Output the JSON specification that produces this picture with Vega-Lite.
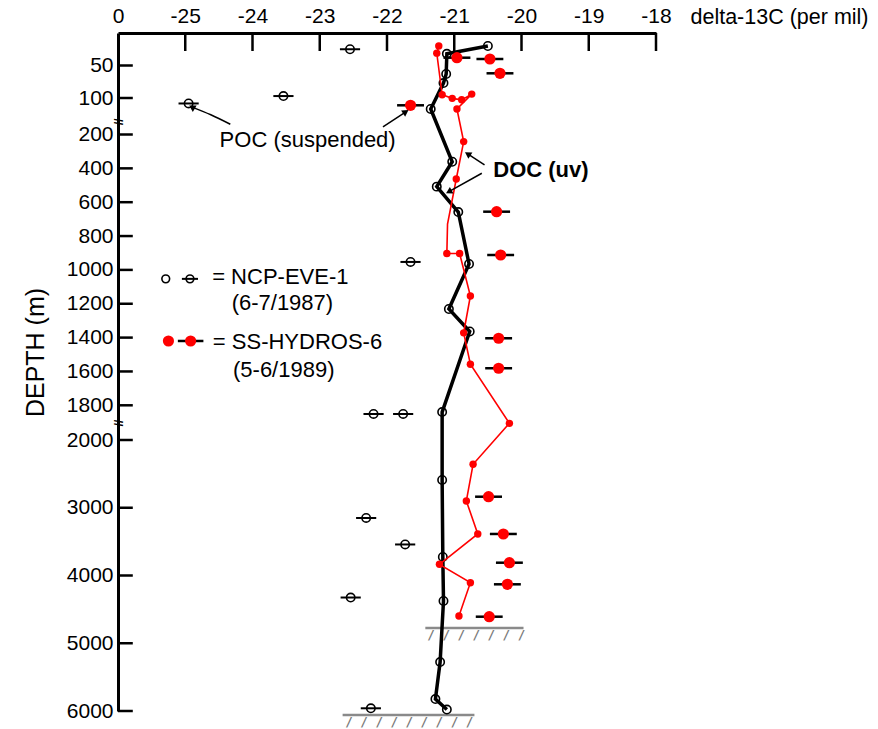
{
  "$schema": "https://vega.github.io/schema/vega-lite/v6.json",
  "width": 538,
  "height": 678,
  "padding": {"left": 118, "top": 33, "right": 222, "bottom": 18},
  "autosize": {"type": "none"},
  "background": "white",
  "config": {"view": {"stroke": null}, "font": "Liberation Sans"},
  "datasets": {
    "docBlack": [
      {"seq": 1, "depth": 20, "d13c": -20.50},
      {"seq": 2, "depth": 32, "d13c": -21.11},
      {"seq": 3, "depth": 63, "d13c": -21.12},
      {"seq": 4, "depth": 77, "d13c": -21.16},
      {"seq": 5, "depth": 130, "d13c": -21.35},
      {"seq": 6, "depth": 361, "d13c": -21.03},
      {"seq": 7, "depth": 508, "d13c": -21.26},
      {"seq": 8, "depth": 658, "d13c": -20.94},
      {"seq": 9, "depth": 965, "d13c": -20.78},
      {"seq": 10, "depth": 1231, "d13c": -21.08},
      {"seq": 11, "depth": 1364, "d13c": -20.77},
      {"seq": 12, "depth": 1839, "d13c": -21.18},
      {"seq": 13, "depth": 2590, "d13c": -21.18},
      {"seq": 14, "depth": 3727, "d13c": -21.17},
      {"seq": 15, "depth": 4376, "d13c": -21.16},
      {"seq": 16, "depth": 5277, "d13c": -21.21},
      {"seq": 17, "depth": 5823, "d13c": -21.28},
      {"seq": 18, "depth": 5978, "d13c": -21.11}
    ],
    "docRed": [
      {"seq": 1, "depth": 20, "d13c": -21.23, "marker": true},
      {"seq": 2, "depth": 31, "d13c": -21.26, "marker": true},
      {"seq": 3, "depth": 95, "d13c": -21.18, "marker": true},
      {"seq": 4, "depth": 101, "d13c": -21.03, "marker": true},
      {"seq": 5, "depth": 105, "d13c": -20.89, "marker": true},
      {"seq": 6, "depth": 94, "d13c": -20.74, "marker": true},
      {"seq": 7, "depth": 130, "d13c": -20.96, "marker": true},
      {"seq": 8, "depth": 242, "d13c": -20.86, "marker": true},
      {"seq": 9, "depth": 463, "d13c": -20.97, "marker": true},
      {"seq": 10, "depth": 729, "d13c": -21.10, "marker": false},
      {"seq": 11, "depth": 903, "d13c": -21.11, "marker": true},
      {"seq": 12, "depth": 903, "d13c": -20.92, "marker": true},
      {"seq": 13, "depth": 1154, "d13c": -20.76, "marker": true},
      {"seq": 14, "depth": 1372, "d13c": -20.86, "marker": true},
      {"seq": 15, "depth": 1557, "d13c": -20.76, "marker": true},
      {"seq": 16, "depth": 1904, "d13c": -20.18, "marker": true},
      {"seq": 17, "depth": 2359, "d13c": -20.72, "marker": true},
      {"seq": 18, "depth": 2900, "d13c": -20.82, "marker": true},
      {"seq": 19, "depth": 3387, "d13c": -20.65, "marker": true},
      {"seq": 20, "depth": 3835, "d13c": -21.22, "marker": true},
      {"seq": 21, "depth": 4106, "d13c": -20.76, "marker": true},
      {"seq": 22, "depth": 4598, "d13c": -20.93, "marker": true}
    ],
    "pocBlack": [
      {"depth": 25, "d13c": -22.55, "lo": -22.70, "hi": -22.40},
      {"depth": 97, "d13c": -23.54, "lo": -23.69, "hi": -23.39},
      {"depth": 115, "d13c": -24.95, "lo": -25.10, "hi": -24.80},
      {"depth": 953, "d13c": -21.65, "lo": -21.80, "hi": -21.50},
      {"depth": 1850, "d13c": -22.20, "lo": -22.35, "hi": -22.05},
      {"depth": 1850, "d13c": -21.76, "lo": -21.91, "hi": -21.61},
      {"depth": 3151, "d13c": -22.31, "lo": -22.46, "hi": -22.16},
      {"depth": 3542, "d13c": -21.73, "lo": -21.88, "hi": -21.58},
      {"depth": 4325, "d13c": -22.54, "lo": -22.69, "hi": -22.39},
      {"depth": 5960, "d13c": -22.24, "lo": -22.39, "hi": -22.09}
    ],
    "pocRed": [
      {"depth": 38, "d13c": -20.96, "lo": -21.16, "hi": -20.76},
      {"depth": 40, "d13c": -20.47, "lo": -20.67, "hi": -20.27},
      {"depth": 62, "d13c": -20.32, "lo": -20.52, "hi": -20.12},
      {"depth": 120, "d13c": -21.65, "lo": -21.85, "hi": -21.45},
      {"depth": 656, "d13c": -20.37, "lo": -20.57, "hi": -20.17},
      {"depth": 912, "d13c": -20.31, "lo": -20.51, "hi": -20.11},
      {"depth": 1404, "d13c": -20.34, "lo": -20.54, "hi": -20.14},
      {"depth": 1581, "d13c": -20.34, "lo": -20.54, "hi": -20.14},
      {"depth": 2837, "d13c": -20.49, "lo": -20.69, "hi": -20.29},
      {"depth": 3387, "d13c": -20.27, "lo": -20.47, "hi": -20.07},
      {"depth": 3811, "d13c": -20.18, "lo": -20.38, "hi": -19.98},
      {"depth": 4130, "d13c": -20.21, "lo": -20.41, "hi": -20.01},
      {"depth": 4608, "d13c": -20.48, "lo": -20.68, "hi": -20.28}
    ],
    "floor": [
      {"depth": 4775, "lo": -21.43, "hi": -19.97, "d13c": -21.40, "label": "/ / / / / / /"},
      {"depth": 6059, "lo": -22.66, "hi": -20.70, "d13c": -22.62, "label": "/ / / / / / / / /"}
    ],
    "arrows": [
      {"id": "a", "seq": 1, "d13c": -24.33, "depth": 172},
      {"id": "a", "seq": 2, "d13c": -24.62, "depth": 146},
      {"id": "a", "seq": 3, "d13c": -24.90, "depth": 125},
      {"id": "b", "seq": 1, "d13c": -22.06, "depth": 179},
      {"id": "b", "seq": 2, "d13c": -21.72, "depth": 138},
      {"id": "c", "seq": 1, "d13c": -20.55, "depth": 380},
      {"id": "c", "seq": 2, "d13c": -20.80, "depth": 315},
      {"id": "d", "seq": 1, "d13c": -20.59, "depth": 429},
      {"id": "d", "seq": 2, "d13c": -21.08, "depth": 538}
    ],
    "xTicks": [
      {"d13c": -25, "depth": 0, "tickEnd": 27.7}, {"d13c": -24, "depth": 0, "tickEnd": 27.7},
      {"d13c": -23, "depth": 0, "tickEnd": 27.7}, {"d13c": -22, "depth": 0, "tickEnd": 27.7},
      {"d13c": -21, "depth": 0, "tickEnd": 27.7}, {"d13c": -20, "depth": 0, "tickEnd": 27.7},
      {"d13c": -19, "depth": 0, "tickEnd": 27.7}, {"d13c": -18, "depth": 0, "tickEnd": 27.7}
    ],
    "yTicks": [
      {"depth": 50, "d13c": -26, "tickEnd": -25.78}, {"depth": 100, "d13c": -26, "tickEnd": -25.78},
      {"depth": 200, "d13c": -26, "tickEnd": -25.78}, {"depth": 400, "d13c": -26, "tickEnd": -25.78},
      {"depth": 600, "d13c": -26, "tickEnd": -25.78}, {"depth": 800, "d13c": -26, "tickEnd": -25.78},
      {"depth": 1000, "d13c": -26, "tickEnd": -25.78}, {"depth": 1200, "d13c": -26, "tickEnd": -25.78},
      {"depth": 1400, "d13c": -26, "tickEnd": -25.78}, {"depth": 1600, "d13c": -26, "tickEnd": -25.78},
      {"depth": 1800, "d13c": -26, "tickEnd": -25.78}, {"depth": 2000, "d13c": -26, "tickEnd": -25.78},
      {"depth": 3000, "d13c": -26, "tickEnd": -25.78}, {"depth": 4000, "d13c": -26, "tickEnd": -25.78},
      {"depth": 5000, "d13c": -26, "tickEnd": -25.78}, {"depth": 6000, "d13c": -26, "tickEnd": -25.78}
    ],
    "legendBlack": [{"d13c": -24.93, "depth": 1053, "lo": -25.05, "hi": -24.81}],
    "legendRed": [{"d13c": -24.92, "depth": 1420, "lo": -25.11, "hi": -24.73}],
    "texts": [
      {"d13c": -24.60, "depth": 1042, "label": "= NCP-EVE-1"},
      {"d13c": -24.31, "depth": 1195, "label": "(6-7/1987)"},
      {"d13c": -24.59, "depth": 1425, "label": "= SS-HYDROS-6"},
      {"d13c": -24.29, "depth": 1591, "label": "(5-6/1989)"}
    ]
  },
  "encoding": {
    "x": {
      "field": "d13c",
      "type": "quantitative",
      "scale": {"domain": [-26, -18], "nice": false, "zero": false},
      "axis": {
        "orient": "top",
        "values": [-26, -25, -24, -23, -22, -21, -20, -19, -18],
        "labelExpr": "datum.value == -26 ? '0' : '-' + abs(datum.value)",
        "grid": false,
        "domainColor": "black",
        "domainWidth": 3,
        "ticks": false,
        "labelPadding": 7,
        "labelFontSize": 21,
        "labelColor": "black",
        "labelFlush": false,
        "labelOverlap": false,
        "title": "delta-13C (per mil)",
        "titleFontSize": 21.5,
        "titleFontWeight": "normal",
        "titleColor": "black",
        "titleX": 572,
        "titleY": -16,
        "titleAlign": "left",
        "titleBaseline": "middle",
        "titleAngle": 0
      }
    },
    "y": {
      "field": "depth",
      "type": "quantitative",
      "scale": {"domain": [0, 100, 200, 1800, 2000, 6000], "range": [0, 65, 101.5, 372.3, 407, 678], "nice": false, "zero": false},
      "axis": {
        "values": [50, 100, 200, 400, 600, 800, 1000, 1200, 1400, 1600, 1800, 2000, 3000, 4000, 5000, 6000],
        "format": "d",
        "grid": false,
        "domainColor": "black",
        "domainWidth": 3,
        "ticks": false,
        "labelPadding": 5,
        "labelFontSize": 21,
        "labelColor": "black",
        "labelFlush": false,
        "labelOverlap": false,
        "title": "DEPTH (m)",
        "titleFontSize": 25,
        "titleFontWeight": "normal",
        "titleColor": "black",
        "titleX": -83,
        "titleY": 319,
        "titleAlign": "center",
        "titleBaseline": "middle"
      }
    }
  },
  "layer": [
    {
      "data": {"name": "xTicks"},
      "mark": {"type": "rule", "color": "black", "strokeWidth": 2.5},
      "encoding": {"y2": {"field": "tickEnd"}}
    },
    {
      "data": {"name": "yTicks"},
      "mark": {"type": "rule", "color": "black", "strokeWidth": 2.5},
      "encoding": {"x2": {"field": "tickEnd"}}
    },
    {
      "data": {"name": "floor"},
      "mark": {"type": "rule", "color": "#8a8a8a", "strokeWidth": 2.5},
      "encoding": {"x": {"field": "lo", "type": "quantitative"}, "x2": {"field": "hi"}}
    },
    {
      "data": {"name": "floor"},
      "mark": {"type": "text", "align": "left", "baseline": "top", "dy": 1, "font": "DejaVu Sans Mono", "fontSize": 12.5, "fontWeight": "bold", "color": "#7a7a7a"},
      "encoding": {"text": {"field": "label"}}
    },
    {
      "data": {"name": "pocBlack"},
      "mark": {"type": "rule", "color": "black", "strokeWidth": 2},
      "encoding": {"x": {"field": "lo", "type": "quantitative"}, "x2": {"field": "hi"}}
    },
    {
      "data": {"name": "pocBlack"},
      "mark": {"type": "point", "shape": "circle", "filled": false, "color": "black", "strokeWidth": 1.6, "size": 70, "opacity": 1}
    },
    {
      "data": {"name": "docBlack"},
      "mark": {"type": "line", "color": "black", "strokeWidth": 3.5},
      "encoding": {"order": {"field": "seq"}}
    },
    {
      "data": {"name": "docBlack"},
      "mark": {"type": "point", "shape": "circle", "filled": false, "color": "black", "strokeWidth": 1.6, "size": 70, "opacity": 1}
    },
    {
      "data": {"name": "docRed"},
      "mark": {"type": "line", "color": "#ff0000", "strokeWidth": 1.6},
      "encoding": {"order": {"field": "seq"}}
    },
    {
      "data": {"name": "docRed"},
      "transform": [{"filter": "datum.marker"}],
      "mark": {"type": "point", "shape": "circle", "filled": true, "color": "#ff0000", "size": 55, "opacity": 1}
    },
    {
      "data": {"name": "pocRed"},
      "mark": {"type": "rule", "color": "black", "strokeWidth": 2.5},
      "encoding": {"x": {"field": "lo", "type": "quantitative"}, "x2": {"field": "hi"}}
    },
    {
      "data": {"name": "pocRed"},
      "mark": {"type": "point", "shape": "circle", "filled": true, "color": "#ff0000", "size": 125, "opacity": 1}
    },
    {
      "data": {"name": "legendBlack"},
      "mark": {"type": "rule", "color": "black", "strokeWidth": 2},
      "encoding": {"x": {"field": "lo", "type": "quantitative"}, "x2": {"field": "hi"}}
    },
    {
      "data": {"values": [{"d13c": -25.29, "depth": 1053}, {"d13c": -24.93, "depth": 1053}]},
      "mark": {"type": "point", "shape": "circle", "filled": false, "color": "black", "strokeWidth": 1.6, "size": 60, "opacity": 1}
    },
    {
      "data": {"name": "legendRed"},
      "mark": {"type": "rule", "color": "black", "strokeWidth": 2.5},
      "encoding": {"x": {"field": "lo", "type": "quantitative"}, "x2": {"field": "hi"}}
    },
    {
      "data": {"values": [{"d13c": -25.25, "depth": 1420}, {"d13c": -24.92, "depth": 1420}]},
      "mark": {"type": "point", "shape": "circle", "filled": true, "color": "#ff0000", "size": 125, "opacity": 1}
    },
    {
      "data": {"name": "texts"},
      "mark": {"type": "text", "align": "left", "baseline": "middle", "fontSize": 22, "color": "black"},
      "encoding": {"text": {"field": "label"}}
    },
    {
      "data": {"values": [{"d13c": -23.18, "depth": 232, "label": "POC (suspended)"}]},
      "mark": {"type": "text", "align": "center", "baseline": "middle", "fontSize": 22, "color": "black"},
      "encoding": {"text": {"field": "label"}}
    },
    {
      "data": {"values": [{"d13c": -20.42, "depth": 409, "label": "DOC (uv)"}]},
      "mark": {"type": "text", "align": "left", "baseline": "middle", "fontSize": 22, "fontWeight": "bold", "color": "black"},
      "encoding": {"text": {"field": "label"}}
    },
    {
      "data": {"name": "arrows"},
      "mark": {"type": "line", "color": "black", "strokeWidth": 1.5, "interpolate": "cardinal"},
      "encoding": {"detail": {"field": "id"}, "order": {"field": "seq"}}
    },
    {
      "data": {"values": [{"d13c": -24.90, "depth": 125}]},
      "mark": {"type": "point", "shape": "triangle-up", "filled": true, "color": "black", "size": 55, "angle": 301, "opacity": 1}
    },
    {
      "data": {"values": [{"d13c": -21.72, "depth": 138}]},
      "mark": {"type": "point", "shape": "triangle-up", "filled": true, "color": "black", "size": 55, "angle": 57, "opacity": 1}
    },
    {
      "data": {"values": [{"d13c": -20.80, "depth": 315}]},
      "mark": {"type": "point", "shape": "triangle-up", "filled": true, "color": "black", "size": 55, "angle": 303, "opacity": 1}
    },
    {
      "data": {"values": [{"d13c": -21.08, "depth": 538}]},
      "mark": {"type": "point", "shape": "triangle-up", "filled": true, "color": "black", "size": 55, "angle": 241, "opacity": 1}
    },
    {
      "data": {"values": [{"d13c": -26, "depth": 165, "label": "//"}, {"d13c": -26, "depth": 1902, "label": "//"}]},
      "mark": {"type": "text", "align": "center", "baseline": "middle", "fontSize": 12, "fontWeight": "bold", "angle": 90, "color": "black"},
      "encoding": {"text": {"field": "label"}}
    }
  ]
}
